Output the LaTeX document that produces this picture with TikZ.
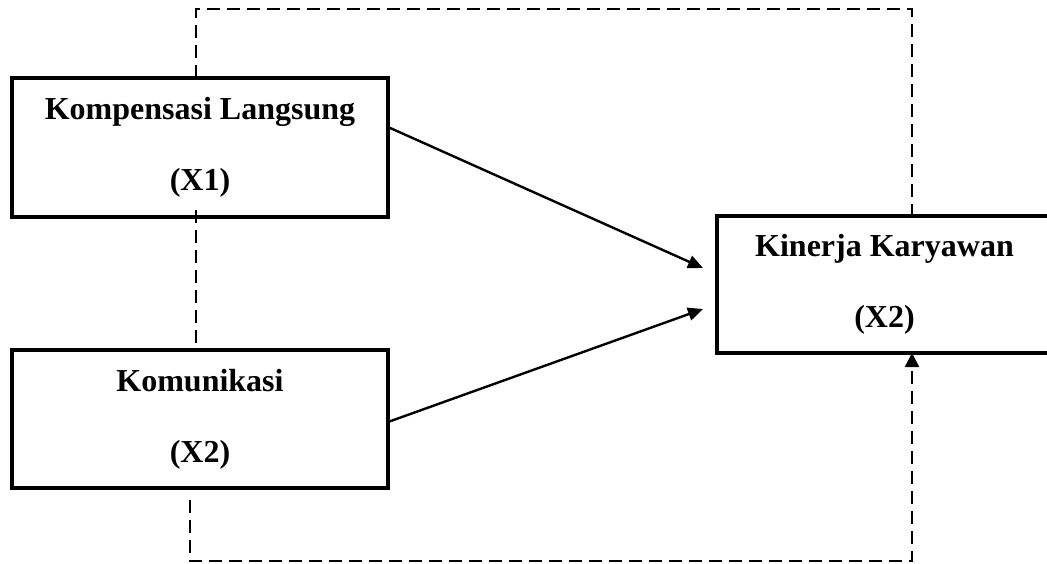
\documentclass[tikz,border=0pt]{standalone}
\usepackage{fontspec}
\setmainfont{Liberation Serif}
\usetikzlibrary{arrows.meta}
\tikzset{
  varbox/.style={draw=black, line width=3.5pt, fill=white, align=center,
    font=\fontsize{32}{71}\selectfont\bfseries, inner sep=0pt, outer sep=0pt},
  solidarrow/.style={line width=2.4pt, -{Triangle[length=15pt,width=13pt]}},
  dsh/.style={line width=2.4pt, dash pattern=on 13pt off 7pt},
  dsharrow/.style={dsh, -{Triangle[length=14pt,width=14pt]}}
}
\begin{document}
\begin{tikzpicture}[x=1pt,y=-1pt]
\useasboundingbox (0,0) rectangle (1047,563);
\coordinate (tl) at (196,9);
\coordinate (tr) at (912,9);
\coordinate (bl) at (190,561);
\coordinate (br) at (912,561);
\coordinate (bs) at (190,500);
\node[varbox, minimum width=376pt, minimum height=139pt] (k1) at (200,147.5) {Kompensasi Langsung\\(X1)};
\node[varbox, minimum width=376pt, minimum height=138pt] (k2) at (200,419) {Komunikasi\\(X2)};
\node[varbox, minimum width=335pt, minimum height=137pt] (k3) at (884.5,284.5) {Kinerja Karyawan\\(X2)};
\draw[dsh] (k1.north -| tl) -- (tl) -- (tr) -- (k3.north -| tr);
\draw[dsh] ([yshift=7pt]k1.south -| tl) -- (k2.north -| tl);
\draw[dsharrow] (bs) -- (bl) -- (br) -- (k3.south -| br);
\draw[solidarrow] ([yshift=20.5pt]k1.east) -- ([xshift=-14pt,yshift=16.5pt]k3.west);
\draw[solidarrow] ([yshift=-3pt]k2.east) -- ([xshift=-14pt,yshift=-24.5pt]k3.west);
\end{tikzpicture}
\end{document}
